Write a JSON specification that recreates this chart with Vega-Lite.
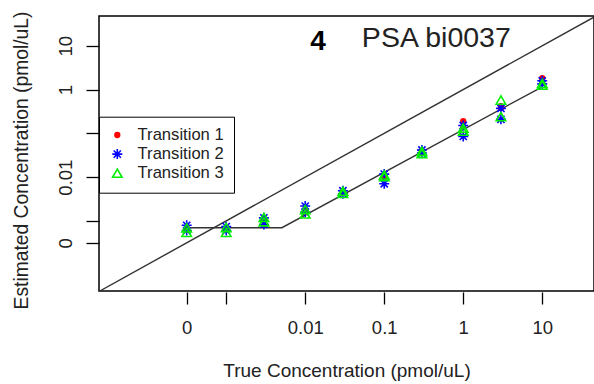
{
  "$schema": "https://vega.github.io/schema/vega-lite/v6.json",
  "width": 495,
  "height": 275,
  "autosize": {"type": "none"},
  "padding": {"left": 99, "top": 16, "right": 0, "bottom": 93},
  "background": "white",
  "config": {
    "view": {"stroke": "#000", "strokeWidth": 1.5},
    "font": "Liberation Sans"
  },
  "datasets": {
    "pts": [
      {"x": -3.5, "y": -3.17, "series": "Transition 1"},
      {"x": -3.5, "y": -3.20, "series": "Transition 1"},
      {"x": -3.0, "y": -3.16, "series": "Transition 1"},
      {"x": -3.0, "y": -3.18, "series": "Transition 1"},
      {"x": -2.523, "y": -2.97, "series": "Transition 1"},
      {"x": -2.523, "y": -3.0, "series": "Transition 1"},
      {"x": -2.0, "y": -2.75, "series": "Transition 1"},
      {"x": -2.0, "y": -2.80, "series": "Transition 1"},
      {"x": -1.523, "y": -2.33, "series": "Transition 1"},
      {"x": -1.523, "y": -2.36, "series": "Transition 1"},
      {"x": -1.0, "y": -1.95, "series": "Transition 1"},
      {"x": -1.0, "y": -2.0, "series": "Transition 1"},
      {"x": -0.523, "y": -1.40, "series": "Transition 1"},
      {"x": -0.523, "y": -1.44, "series": "Transition 1"},
      {"x": 0.0, "y": -0.72, "series": "Transition 1"},
      {"x": 0.0, "y": -0.85, "series": "Transition 1"},
      {"x": 0.477, "y": -0.38, "series": "Transition 1"},
      {"x": 0.477, "y": -0.42, "series": "Transition 1"},
      {"x": 1.0, "y": 0.26, "series": "Transition 1"},
      {"x": 1.0, "y": 0.18, "series": "Transition 1"},
      {"x": -3.5, "y": -3.10, "series": "Transition 2"},
      {"x": -3.5, "y": -3.22, "series": "Transition 2"},
      {"x": -3.0, "y": -3.13, "series": "Transition 2"},
      {"x": -3.0, "y": -3.22, "series": "Transition 2"},
      {"x": -2.523, "y": -2.93, "series": "Transition 2"},
      {"x": -2.523, "y": -3.08, "series": "Transition 2"},
      {"x": -2.0, "y": -2.66, "series": "Transition 2"},
      {"x": -2.0, "y": -2.80, "series": "Transition 2"},
      {"x": -1.523, "y": -2.31, "series": "Transition 2"},
      {"x": -1.523, "y": -2.38, "series": "Transition 2"},
      {"x": -1.0, "y": -1.93, "series": "Transition 2"},
      {"x": -1.0, "y": -2.15, "series": "Transition 2"},
      {"x": -0.523, "y": -1.38, "series": "Transition 2"},
      {"x": -0.523, "y": -1.45, "series": "Transition 2"},
      {"x": 0.0, "y": -0.82, "series": "Transition 2"},
      {"x": 0.0, "y": -1.07, "series": "Transition 2"},
      {"x": 0.477, "y": -0.43, "series": "Transition 2"},
      {"x": 0.477, "y": -0.68, "series": "Transition 2"},
      {"x": 1.0, "y": 0.20, "series": "Transition 2"},
      {"x": 1.0, "y": 0.13, "series": "Transition 2"},
      {"x": -3.5, "y": -3.16, "series": "Transition 3"},
      {"x": -3.5, "y": -3.26, "series": "Transition 3"},
      {"x": -3.0, "y": -3.15, "series": "Transition 3"},
      {"x": -3.0, "y": -3.26, "series": "Transition 3"},
      {"x": -2.523, "y": -2.92, "series": "Transition 3"},
      {"x": -2.523, "y": -3.02, "series": "Transition 3"},
      {"x": -2.0, "y": -2.74, "series": "Transition 3"},
      {"x": -2.0, "y": -2.84, "series": "Transition 3"},
      {"x": -1.523, "y": -2.32, "series": "Transition 3"},
      {"x": -1.523, "y": -2.37, "series": "Transition 3"},
      {"x": -1.0, "y": -1.95, "series": "Transition 3"},
      {"x": -1.0, "y": -1.99, "series": "Transition 3"},
      {"x": -0.523, "y": -1.41, "series": "Transition 3"},
      {"x": -0.523, "y": -1.46, "series": "Transition 3"},
      {"x": 0.0, "y": -0.88, "series": "Transition 3"},
      {"x": 0.0, "y": -0.95, "series": "Transition 3"},
      {"x": 0.477, "y": -0.24, "series": "Transition 3"},
      {"x": 0.477, "y": -0.62, "series": "Transition 3"},
      {"x": 1.0, "y": 0.14, "series": "Transition 3"},
      {"x": 1.0, "y": 0.10, "series": "Transition 3"}
    ],
    "lines": [
      {"x": -4.61, "y": -4.61, "g": "identity"},
      {"x": 1.7, "y": 1.7, "g": "identity"},
      {"x": -3.5, "y": -3.155, "g": "fit"},
      {"x": -2.295, "y": -3.155, "g": "fit"},
      {"x": 1.0, "y": 0.064, "g": "fit"}
    ]
  },
  "encoding": {
    "x": {
      "field": "x",
      "type": "quantitative",
      "scale": {"domain": [-4.61, 1.655], "nice": false, "zero": false},
      "axis": {
        "title": "True Concentration (pmol/uL)",
        "values": [-3.5, -3, -2, -1, 0, 1],
        "labelExpr": "datum.value == -3.5 ? '0' : datum.value == -3 ? '' : datum.value == -2 ? '0.01' : datum.value == -1 ? '0.1' : datum.value == 0 ? '1' : '10'",
        "domain": false,
        "grid": false,
        "offset": 1,
        "tickSize": 12,
        "tickColor": "#000",
        "tickWidth": 1.3,
        "labelPadding": 14,
        "labelFontSize": 18.5,
        "labelColor": "#222",
        "labelFlush": false,
        "labelOverlap": false,
        "titleFontSize": 19,
        "titleFontWeight": "normal",
        "titleColor": "#222",
        "titleBaseline": "top",
        "titleY": 69
      }
    },
    "y": {
      "field": "y",
      "type": "quantitative",
      "scale": {"domain": [-4.6, 1.68], "nice": false, "zero": false},
      "axis": {
        "title": "Estimated Concentration (pmol/uL)",
        "values": [-3.5, -3, -2, -1, 0, 1],
        "labelExpr": "datum.value == -3.5 ? '0' : datum.value == -2 ? '0.01' : datum.value == 0 ? '1' : datum.value == 1 ? '10' : ''",
        "domain": false,
        "grid": false,
        "tickSize": 13,
        "tickColor": "#000",
        "tickWidth": 1.3,
        "labelPadding": 14.5,
        "labelFontSize": 18.5,
        "labelColor": "#222",
        "labelAngle": -90,
        "labelAlign": "center",
        "labelBaseline": "alphabetic",
        "labelFlush": false,
        "labelOverlap": false,
        "titleFontSize": 19.3,
        "titleFontWeight": "normal",
        "titleColor": "#222",
        "titleAngle": -90,
        "titleAlign": "center",
        "titleBaseline": "alphabetic",
        "titleX": -72,
        "titleY": 144
      }
    }
  },
  "layer": [
    {
      "data": {"name": "lines"},
      "mark": {"type": "line", "color": "#333", "strokeWidth": 1.4, "clip": true},
      "encoding": {"detail": {"field": "g", "type": "nominal"}}
    },
    {
      "data": {"name": "pts"},
      "mark": {"type": "point", "opacity": 1, "strokeWidth": 1.6},
      "encoding": {
        "shape": {
          "field": "series", "type": "nominal",
          "scale": {"domain": ["Transition 1", "Transition 2", "Transition 3"],
                    "range": ["circle", "M-1,0L1,0M0,-1L0,1M-0.72,-0.72L0.72,0.72M-0.72,0.72L0.72,-0.72", "triangle-up"]},
          "legend": {
            "title": null,
            "orient": "none",
            "legendX": 0,
            "legendY": 100.7,
            "padding": 10,
            "strokeColor": "#000",
            "fillColor": "white",
            "labelFontSize": 16.6,
            "labelColor": "#222",
            "labelOffset": 12,
            "rowPadding": 2.1,
            "symbolStrokeWidth": 1.6
          }
        },
        "stroke": {
          "field": "series", "type": "nominal",
          "scale": {"domain": ["Transition 1", "Transition 2", "Transition 3"], "range": ["#ff0000", "#0000ff", "#00ee00"]}
        },
        "fill": {
          "field": "series", "type": "nominal",
          "scale": {"domain": ["Transition 1", "Transition 2", "Transition 3"], "range": ["#ff0000", "transparent", "transparent"]}
        },
        "size": {
          "field": "series", "type": "nominal",
          "scale": {"type": "ordinal", "domain": ["Transition 1", "Transition 2", "Transition 3"], "range": [22, 100, 90]}
        }
      }
    },
    {
      "data": {"values": [{"x": -1.937, "y": 0.902, "label": "4"}]},
      "mark": {"type": "text", "align": "left", "baseline": "alphabetic", "fontSize": 28, "fontWeight": "bold", "color": "#000"},
      "encoding": {"text": {"field": "label"}}
    },
    {
      "data": {"values": [{"x": -1.283, "y": 0.977, "label": "PSA bi0037"}]},
      "mark": {"type": "text", "align": "left", "baseline": "alphabetic", "fontSize": 28.5, "color": "#222"},
      "encoding": {"text": {"field": "label"}}
    }
  ]
}
